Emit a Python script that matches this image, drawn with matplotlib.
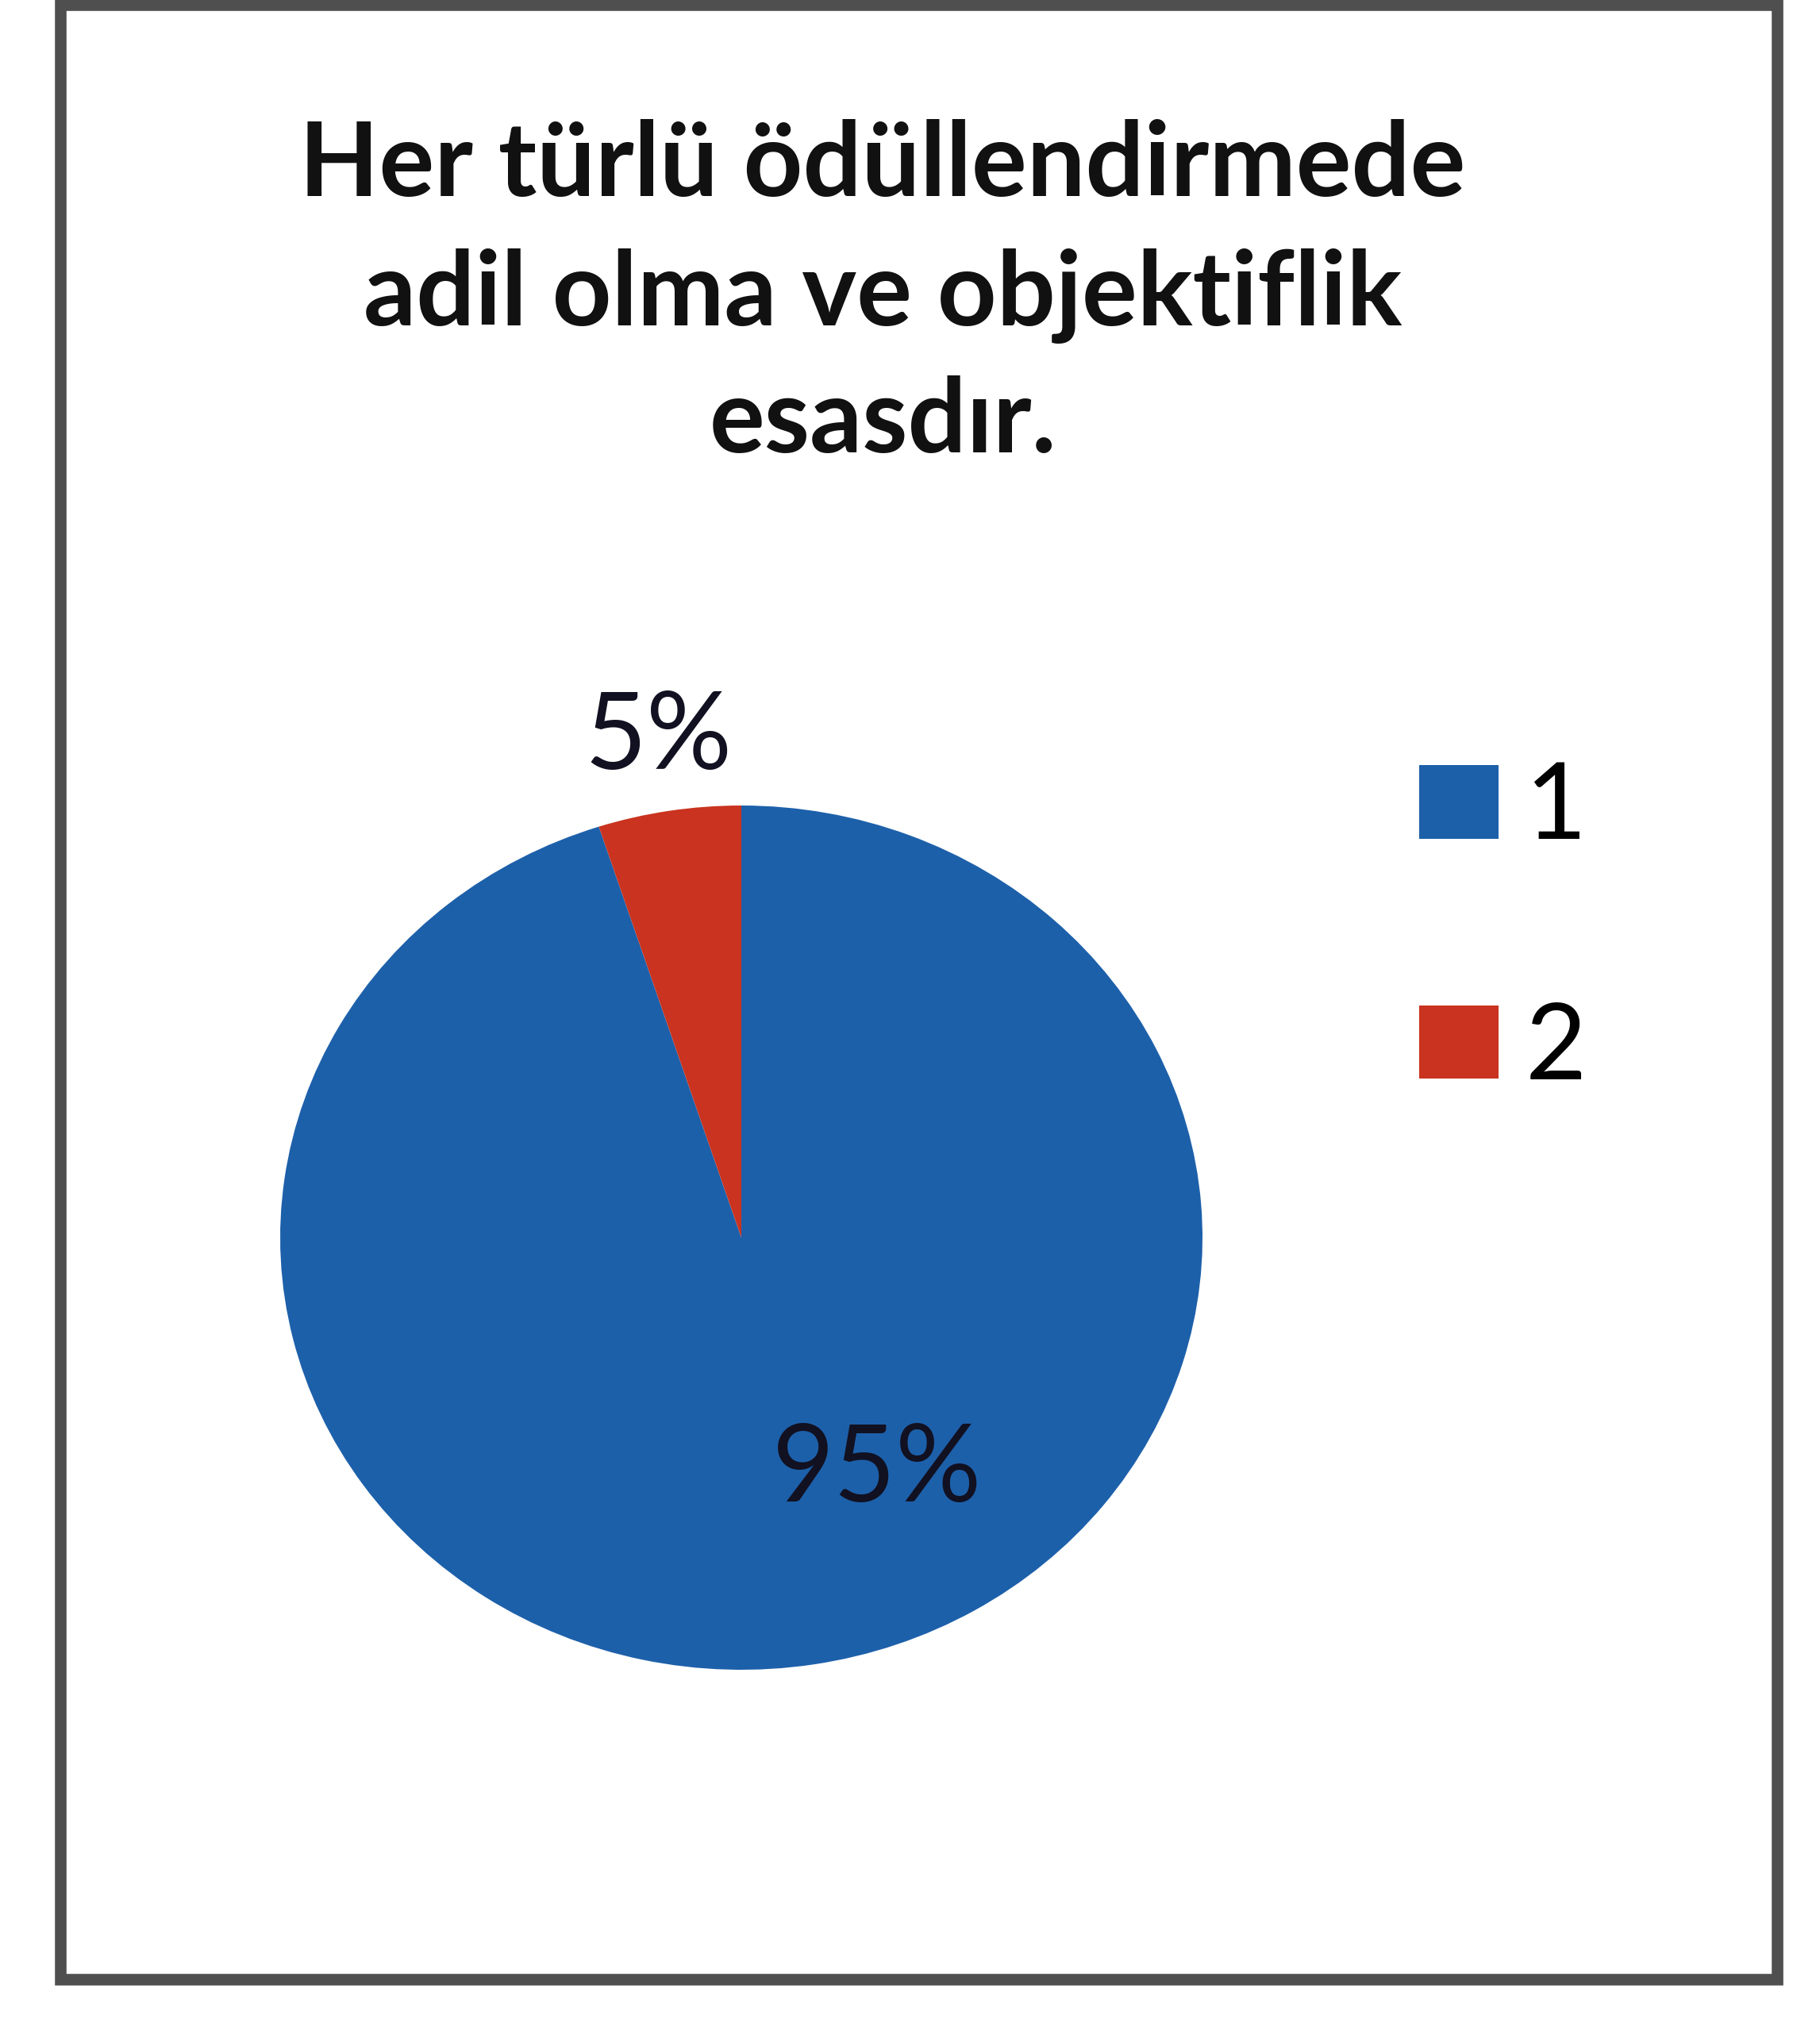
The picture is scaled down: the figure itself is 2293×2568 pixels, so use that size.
import numpy as np
import matplotlib
matplotlib.use("Agg")
import matplotlib.pyplot as plt
from matplotlib.patches import Rectangle

plt.rcParams['font.family'] = ['Lato', 'DejaVu Sans']

# data
title_lines = ["Her türlü ödüllendirmede", "adil olma ve objektiflik", "esasdır."]
categories = ["1", "2"]
shares = [95, 5]
colors = ['#1d60aa', '#c9331f']

W, H = 2293, 2568
fig = plt.figure(figsize=(W / 100, H / 100), dpi=100)
fig.patch.set_facecolor('white')


def fx(px):
    return px / W


def fy(py):
    # pixel rows counted from the top
    return 1 - py / H


# outer frame of the scanned chart
frame = Rectangle((fx(76), fy(2494)), fx(2239) - fx(76), fy(6) - fy(2494),
                  transform=fig.transFigure, fill=False,
                  edgecolor='#4f4f4f', linewidth=10.5)
fig.patches.append(frame)

# title, one line at a time
baselines = [247, 410, 570]
for line, base in zip(title_lines, baselines):
    fig.text(fx(1112), fy(base), line, ha='center', va='baseline',
             fontsize=94, fontweight='bold', color='#111111')

# pie (slightly elliptical, like the scan)
ax = fig.add_axes([fx(353), fy(2104), fx(1515) - fx(353), fy(1015) - fy(2104)])
wedges, _ = ax.pie(shares, colors=colors, startangle=90, counterclock=False,
                   radius=1.0, wedgeprops=dict(linewidth=0))
ax.set_xlim(-1, 1)
ax.set_ylim(-1, 1)
ax.set_aspect('auto')
ax.axis('off')

# percent labels
label_pos = [(0.295, -0.54), (-0.18, 1.155)]
for val, (x, y) in zip(shares, label_pos):
    ax.text(x, y, f"{val}%", ha='center', va='center', fontsize=97,
            color='#111122', clip_on=False)

# legend on the right
fig.legend(wedges, categories, loc='center left',
           bbox_to_anchor=(fx(1788), fy(1171)), frameon=False,
           fontsize=96, handlelength=0.75, handleheight=0.69,
           handletextpad=0.25, labelspacing=1.36, borderpad=0,
           borderaxespad=0)

fig.savefig('out.png', dpi=100, facecolor='white')
